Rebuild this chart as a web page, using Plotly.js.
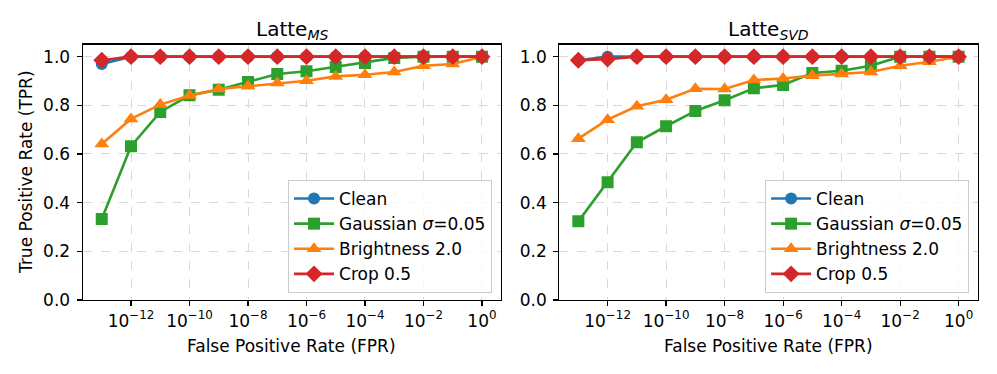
<!DOCTYPE html>
<html>
<head>
<meta charset="utf-8">
<script src="https://cdn.plot.ly/plotly-3.0.1.min.js"></script>
<style>body{margin:0;background:#fff;}#chart{width:997px;height:374px;}</style>
</head>
<body>
<div id="chart"></div>
<script>
// FPR thresholds, 1e-13 .. 1e0
var fpr = [1e-13, 1e-12, 1e-11, 1e-10, 1e-9, 1e-8, 1e-7, 1e-6, 1e-5, 1e-4, 1e-3, 1e-2, 1e-1, 1e0];

// Latte_MS
var msClean      = [0.97, 1.0, 1.0, 1.0, 1.0, 1.0, 1.0, 1.0, 1.0, 1.0, 1.0, 1.0, 1.0, 1.0];
var msGaussian   = [0.333, 0.632, 0.773, 0.841, 0.864, 0.896, 0.929, 0.940, 0.958, 0.974, 0.995, 1.0, 1.0, 1.0];
var msBrightness = [0.641, 0.744, 0.803, 0.840, 0.867, 0.878, 0.892, 0.901, 0.919, 0.926, 0.937, 0.963, 0.970, 1.0];
var msCrop       = [0.985, 1.0, 1.0, 1.0, 1.0, 1.0, 1.0, 1.0, 1.0, 1.0, 1.0, 1.0, 1.0, 1.0];

// Latte_SVD
var svdClean      = [0.985, 1.0, 1.0, 1.0, 1.0, 1.0, 1.0, 1.0, 1.0, 1.0, 1.0, 1.0, 1.0, 1.0];
var svdGaussian   = [0.323, 0.484, 0.648, 0.714, 0.777, 0.821, 0.870, 0.884, 0.933, 0.942, 0.963, 1.0, 1.0, 1.0];
var svdBrightness = [0.663, 0.741, 0.796, 0.823, 0.868, 0.867, 0.904, 0.910, 0.922, 0.929, 0.937, 0.963, 0.979, 1.0];
var svdCrop       = [0.985, 0.99, 1.0, 1.0, 1.0, 1.0, 1.0, 1.0, 1.0, 1.0, 1.0, 1.0, 1.0, 1.0];

var seriesNames = ['Clean', 'Gaussian <i>σ</i>=0.05', 'Brightness 2.0', 'Crop 0.5'];
var colors = ['#1f77b4', '#2ca02c', '#ff7f0e', '#d62728'];
var symbols = ['circle', 'square', 'triangle-up', 'diamond'];
var sizes = [12, 12, 13, 13];

var xTickVals = [1e-12, 1e-10, 1e-8, 1e-6, 1e-4, 1e-2, 1e0];
var xTickText = ['10<sup>−12</sup>', '10<sup>−10</sup>', '10<sup>−8</sup>', '10<sup>−6</sup>',
                 '10<sup>−4</sup>', '10<sup>−2</sup>', '10<sup>0</sup>'];

var font = 'DejaVu Sans, sans-serif';

function makeTraces(ys, xa, ya, leg) {
  return ys.map(function (y, i) {
    return {
      x: fpr, y: y, xaxis: xa, yaxis: ya,
      type: 'scatter', mode: 'lines+markers',
      name: seriesNames[i],
      legend: leg, legendgroup: leg + i,
      line: {color: colors[i], width: 2.6},
      marker: {color: colors[i], symbol: symbols[i], size: sizes[i]}
    };
  });
}

var data = makeTraces([msClean, msGaussian, msBrightness, msCrop], 'x', 'y', 'legend')
  .concat(makeTraces([svdClean, svdGaussian, svdBrightness, svdCrop], 'x2', 'y2', 'legend2'));

function xAxis(dom, anchor) {
  return {
    domain: dom, anchor: anchor, type: 'log', range: [-13.65, 0.65],
    tickvals: xTickVals, ticktext: xTickText,
    ticks: 'outside', ticklen: 5, tickcolor: '#000', tickwidth: 1.2,
    showgrid: true, gridcolor: '#d9d9d9', griddash: 'dash', gridwidth: 1,
    showline: true, linecolor: '#000', linewidth: 1.2, mirror: true,
    zeroline: false, tickfont: {family: font, size: 17, color: '#000'}
  };
}
function yAxis(dom, anchor) {
  return {
    domain: dom, anchor: anchor, range: [0, 1.05],
    tickvals: [0, 0.2, 0.4, 0.6, 0.8, 1.0], tickformat: '.1f',
    ticks: 'outside', ticklen: 5, tickcolor: '#000', tickwidth: 1.2,
    ticklabelstandoff: 3,
    showgrid: true, gridcolor: '#d9d9d9', griddash: 'dash', gridwidth: 1,
    showline: true, linecolor: '#000', linewidth: 1.2, mirror: true,
    zeroline: false, tickfont: {family: font, size: 17, color: '#000'}
  };
}

function legendAt(x) {
  return {
    x: x, y: 1 - 293 / 374, xanchor: 'right', yanchor: 'bottom',
    bgcolor: 'rgba(255,255,255,0.8)', bordercolor: '#cccccc', borderwidth: 1,
    font: {family: font, size: 17, color: '#000'},
    itemwidth: 40, tracegroupgap: 0
  };
}

function label(text, x, y, size, angle) {
  return {text: text, x: x, y: y, xref: 'paper', yref: 'paper',
          xanchor: 'center', yanchor: 'middle', textangle: angle || 0,
          showarrow: false, font: {family: font, size: size, color: '#000'}};
}

var yDom = [0.198, 0.881];
var layout = {
  width: 997, height: 374,
  margin: {l: 0, r: 0, t: 0, b: 0},
  paper_bgcolor: '#fff', plot_bgcolor: '#fff',
  showlegend: true,
  xaxis: xAxis([0.083, 0.5025], 'y'),
  yaxis: yAxis(yDom, 'x'),
  xaxis2: xAxis([0.561, 0.9806], 'y2'),
  yaxis2: yAxis(yDom, 'x2'),
  legend: legendAt(0.4935),
  legend2: legendAt(0.972),
  annotations: [
    label('Latte<sub><i>MS</i></sub>', 0.2928, 1 - 30 / 374, 20),
    label('Latte<sub><i>SVD</i></sub>', 0.7708, 1 - 30 / 374, 20),
    label('False Positive Rate (FPR)', 0.2928, 1 - 346 / 374, 17),
    label('False Positive Rate (FPR)', 0.7708, 1 - 346 / 374, 17),
    label('True Positive Rate (TPR)', 26 / 997, 1 - 172 / 374, 17, -90)
  ]
};

Plotly.newPlot('chart', data, layout, {displayModeBar: false, staticPlot: true});
</script>
</body>
</html>
